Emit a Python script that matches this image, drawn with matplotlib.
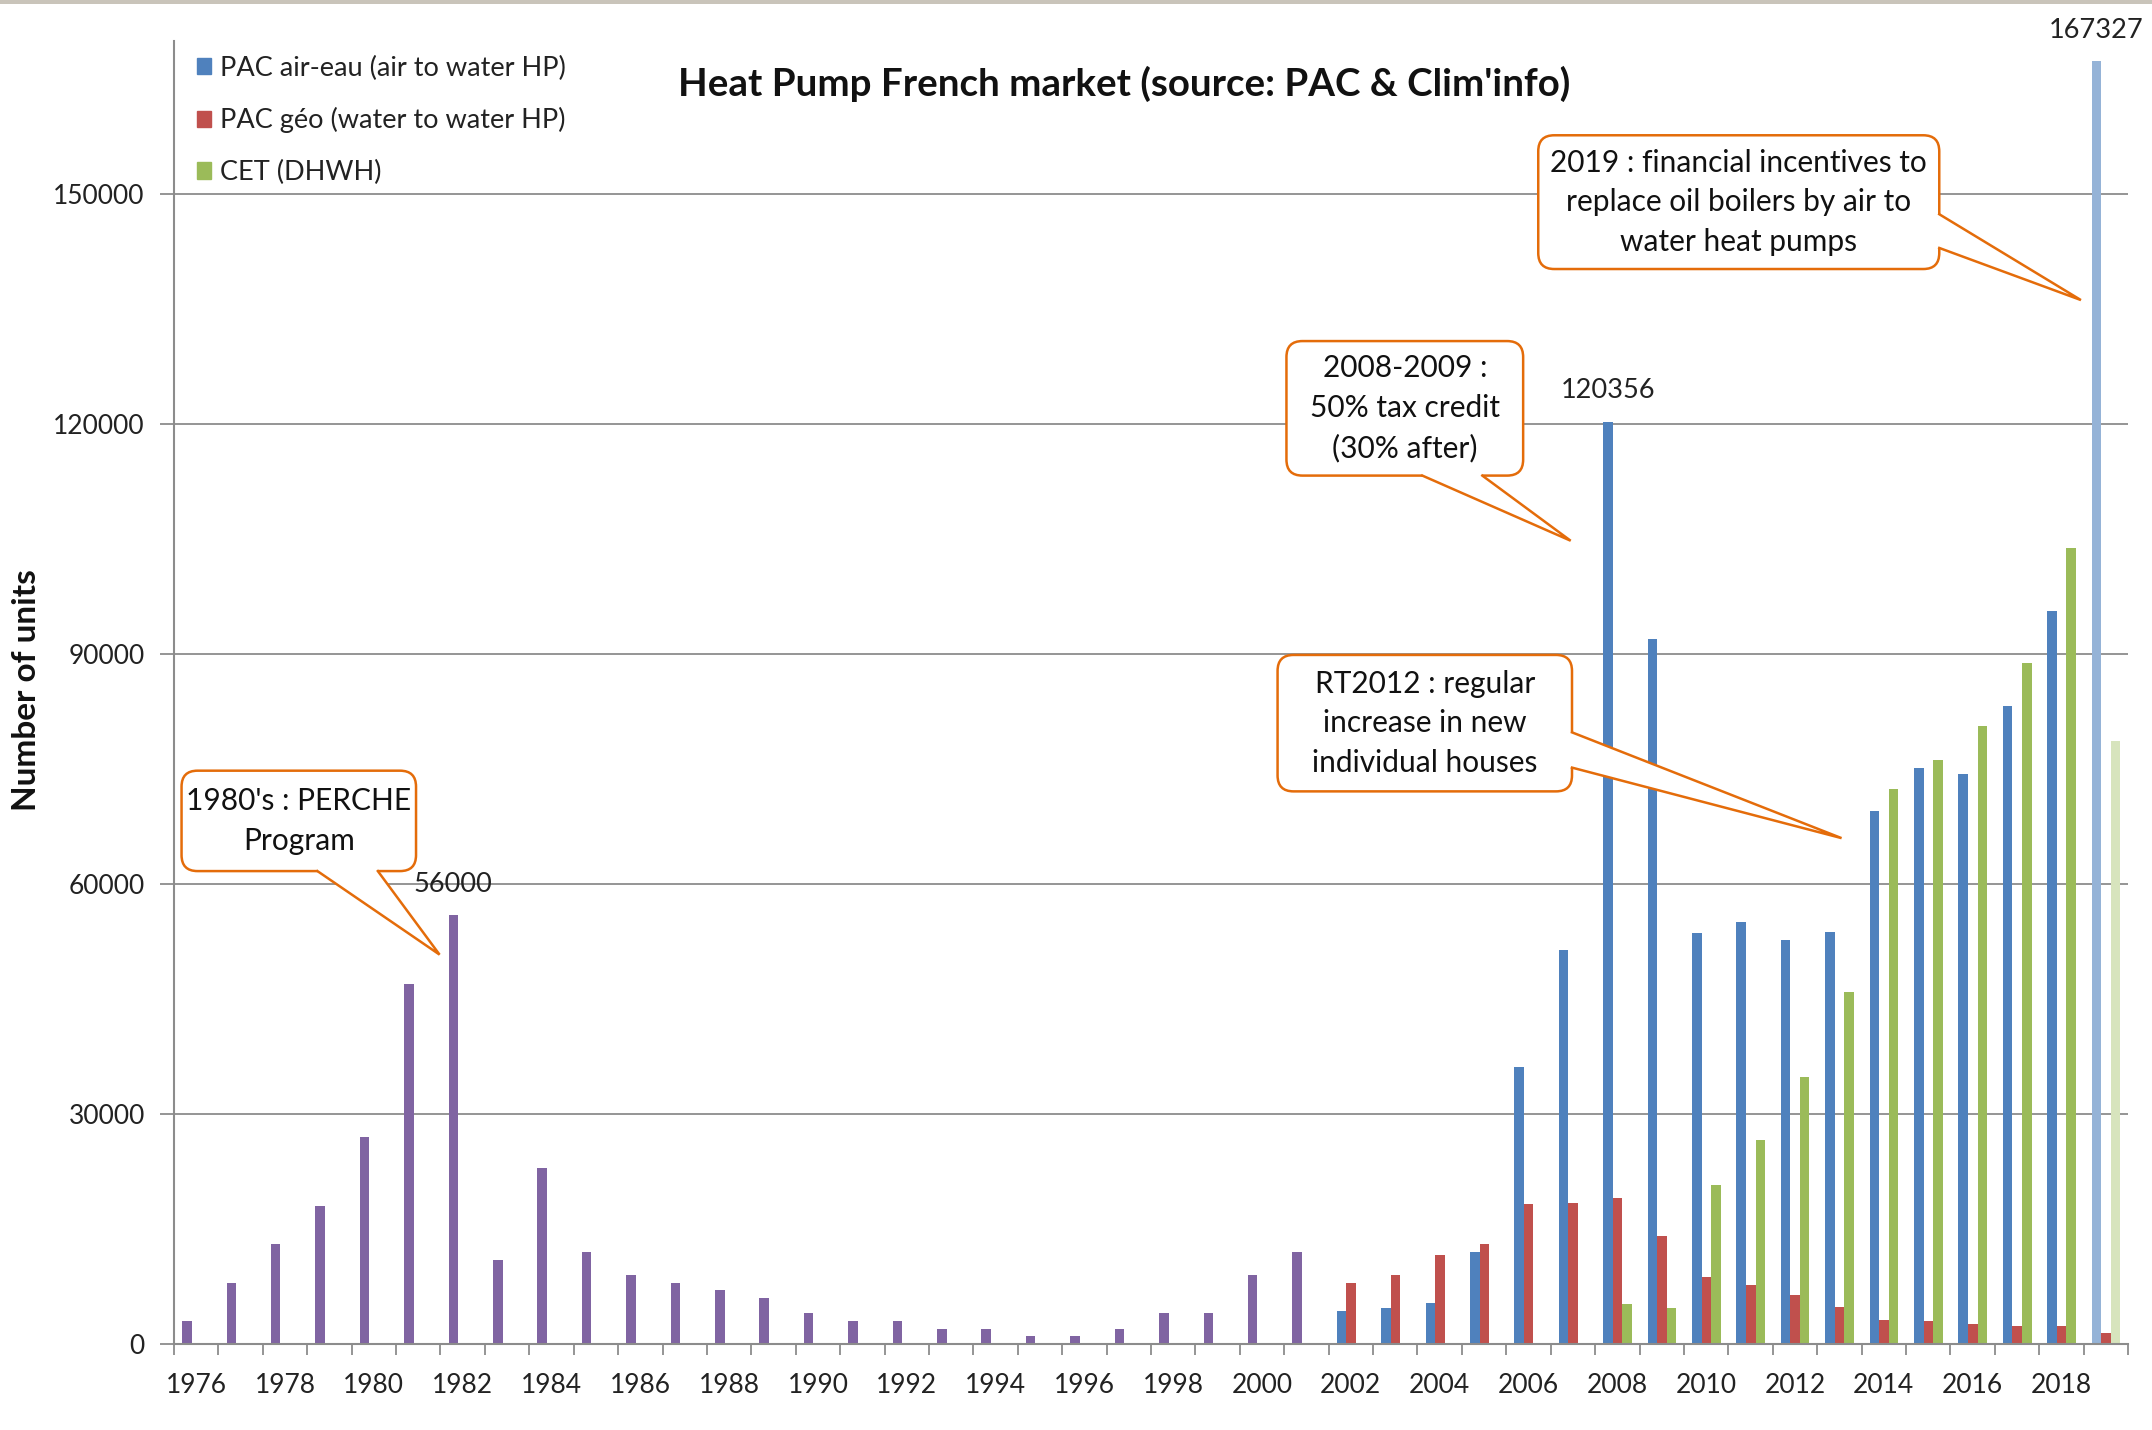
import matplotlib.pyplot as plt
import numpy as np
from matplotlib.patches import FancyBboxPatch, Polygon, Patch, Rectangle

plt.rcParams['font.family'] = ['Lato', 'DejaVu Sans']

# yearly heat pump sales in France (units)
years = list(range(1976, 2020))

early_years = list(range(1976, 2002))
early_units = [3000, 8000, 13000, 18000, 27000, 47000, 56000, 11000, 23000, 12000,
               9000, 8000, 7000, 6000, 4000, 3000, 3000, 2000, 2000, 1000,
               1000, 2000, 4000, 4000, 9000, 12000]

recent_years = list(range(2002, 2020))
air_water = [4300, 4700, 5400, 12000, 36100, 51400, 120356, 92000, 53600, 55100,
             52700, 53800, 69600, 75100, 74400, 83200, 95600, 167327]
water_water = [7900, 9000, 11600, 13000, 18300, 18400, 19100, 14100, 8800, 7700,
               6400, 4800, 3100, 3000, 2600, 2400, 2400, 1400]

cet_years = list(range(2008, 2020))
cet = [5200, 4700, 20800, 26600, 34900, 45900, 72400, 76200, 80600, 88900, 103900, 78700]

series_names = ['PAC air-eau (air to water HP)', 'PAC géo (water to water HP)', 'CET (DHWH)']
labelled_years = [1982, 2008, 2019]

BLUE, RED, GREEN, PURPLE = '#4F81BD', '#C0504D', '#9BBB59', '#8064A2'
BLUE_LIGHT, GREEN_LIGHT = '#95B3D7', '#D7E4BD'
ORANGE = '#E46C0A'
GRID = '#8C8C8C'

fig = plt.figure(figsize=(21.52, 14.30), dpi=100)
ax = fig.add_axes([174 / 2152, 1 - 1344 / 1430, 1954 / 2152, 1303 / 1430])

idx = {y: i for i, y in enumerate(years)}


def pos(ys):
    return np.array([idx[y] for y in ys], dtype=float)


w = 0.215
off_blue, off_red, off_green = -0.21, 0.005, 0.22

blue_cols = [BLUE] * (len(recent_years) - 1) + [BLUE_LIGHT]
green_cols = [GREEN] * (len(cet_years) - 1) + [GREEN_LIGHT]

ax.bar(pos(early_years) + off_blue, early_units, w, color=PURPLE, zorder=3)
ax.bar(pos(recent_years) + off_blue, air_water, w, color=blue_cols, zorder=3)
ax.bar(pos(recent_years) + off_red, water_water, w, color=RED, zorder=3)
ax.bar(pos(cet_years) + off_green, cet, w, color=green_cols, zorder=3)

ax.set_xlim(-0.5, len(years) - 0.5)
ax.set_ylim(0, 170000)

# value labels on the peaks
all_vals = dict(zip(early_years, early_units))
all_vals.update(zip(recent_years, air_water))
for y in labelled_years:
    v = all_vals[y]
    ax.annotate(str(v), (idx[y] + off_blue, v), xytext=(0, 22), textcoords='offset points',
                ha='center', va='center', fontsize=19.5, color='#222222',
                annotation_clip=False, zorder=8)

# axes styling
for s in ['top', 'right', 'bottom']:
    ax.spines[s].set_visible(False)
ax.spines['left'].set_color(GRID)
ax.spines['left'].set_linewidth(1.5)
ax.axhline(0, color=GRID, lw=1.5, zorder=4, clip_on=False)
ax.set_yticks(range(0, 150001, 30000))
ax.yaxis.grid(True, color=GRID, lw=1.3, zorder=0)
ax.tick_params(axis='y', length=10, width=1.3, color=GRID, labelsize=19, pad=11,
               labelcolor='#222222')

ax.set_xticks([idx[y] for y in years if y % 2 == 0])
ax.set_xticklabels([str(y) for y in years if y % 2 == 0])
ax.set_xticks(np.arange(-0.5, len(years)), minor=True)
ax.tick_params(axis='x', which='major', length=0, labelsize=19, pad=21, labelcolor='#222222')
ax.tick_params(axis='x', which='minor', length=8, width=1.3, color=GRID)

# data-units per pixel ratio, used to keep the callout corners round
px_x = (ax.get_xlim()[1] - ax.get_xlim()[0]) / 1954
px_y = (ax.get_ylim()[1] - ax.get_ylim()[0]) / 1303
aspect = px_y / px_x


def callout(box, base, tip, text, side='bottom'):
    x0, y0, x1, y1 = box
    ax.add_patch(FancyBboxPatch((x0, y0), x1 - x0, y1 - y0,
                                boxstyle='round,pad=0,rounding_size=0.36',
                                mutation_aspect=aspect, fc='white', ec=ORANGE,
                                lw=1.8, zorder=6, clip_on=False))
    if side == 'bottom':
        b1, b2 = (base[0], y0), (base[1], y0)
        i1, i2 = (base[0], y0 + 5 * px_y), (base[1], y0 + 5 * px_y)
    else:
        b1, b2 = (x1, base[0]), (x1, base[1])
        i1, i2 = (x1 - 5 * px_x, base[0]), (x1 - 5 * px_x, base[1])
    ax.add_patch(Polygon([i1, b1, tip, b2, i2], closed=True, fc='white', ec='none',
                         zorder=7, clip_on=False))
    ax.plot([b1[0], tip[0], b2[0]], [b1[1], tip[1], b2[1]], color=ORANGE, lw=1.8,
            zorder=7, clip_on=False, solid_joinstyle='miter')
    ax.text((x0 + x1) / 2, (y0 + y1) / 2, text, ha='center', va='center',
            fontsize=21.5, color='#111111', linespacing=1.5, zorder=8)


callout((-0.33, 61700, 4.95, 74800), (2.73, 4.09), (5.48, 50800),
        "1980's : PERCHE\nProgram")
callout((24.55, 113300, 29.88, 130850), (27.61, 28.96), (30.95, 104800),
        "2008-2009 :\n50% tax credit\n(30% after)")
callout((24.35, 72100, 30.98, 89900), (79800, 75200), (37.05, 66000),
        "RT2012 : regular\nincrease in new\nindividual houses", side='right')
callout((30.22, 140250, 39.25, 157700), (147400, 143000), (42.44, 136200),
        "2019 : financial incentives to\nreplace oil boilers by air to\nwater heat pumps",
        side='right')

# legend
handles = [Patch(color=c) for c in (BLUE, RED, GREEN)]
fig.legend(handles, series_names, loc='upper left', bbox_to_anchor=(183 / 2152, 1 - 42 / 1430),
           frameon=False, fontsize=19.5, handlelength=0.55, handleheight=0.55,
           handletextpad=0.3, labelspacing=0.98, borderpad=0, labelcolor='#222222')

fig.text(1124 / 2152, 1 - 84 / 1430, "Heat Pump French market (source: PAC & Clim'info)",
         ha='center', va='center', fontsize=27.7, fontweight='bold', color='#111111')
fig.text(27 / 2152, 1 - 690 / 1430, 'Number of units', rotation=90, ha='center',
         va='center', fontsize=24, fontweight='bold', color='#111111')

# thin window strip along the top edge
fig.patches.append(Rectangle((0, 1 - 4 / 1430), 1, 4 / 1430, transform=fig.transFigure,
                             fc='#C9C4BA', ec='none'))

fig.savefig('out.png', dpi=100)
